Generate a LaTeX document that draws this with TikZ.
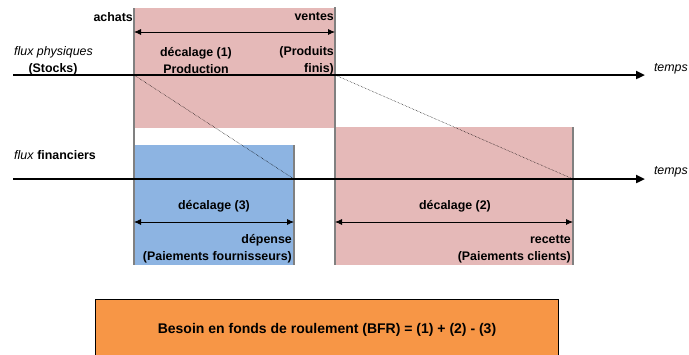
\documentclass[tikz,border=0pt]{standalone}
\usepackage{fontspec}
\setmainfont{Liberation Sans}
\usetikzlibrary{arrows.meta,positioning}
\definecolor{stockpink}{RGB}{229,185,184}
\definecolor{cashblue}{RGB}{141,180,226}
\definecolor{bfrorange}{RGB}{247,150,70}
\definecolor{edgegray}{RGB}{128,128,128}
\tikzset{
 edgeline/.style={draw=edgegray, line width=2pt},
 timeaxis/.style={-{Triangle[length=9pt,width=8pt]}, line width=2.6pt},
 spanarrow/.style={{Latex[length=7pt,width=6pt]}-{Latex[length=7pt,width=6pt]}, line width=0.8pt},
 lagline/.style={densely dotted, line width=0.5pt},
 boldlabel/.style={font=\fontsize{12.4}{17}\selectfont\bfseries, inner sep=1pt},
 itlabel/.style={font=\fontsize{12.4}{17}\selectfont\itshape, inner sep=1pt},
 bfrbox/.style={draw=black, line width=0.6pt, fill=bfrorange}
}
\begin{document}
\begin{tikzpicture}[x=1pt, y=-1pt]
 \useasboundingbox (0,0) rectangle (689,354);
 % coloured periods
 \fill[stockpink] (134,8) rectangle (335,128);
 \fill[cashblue] (134,145) rectangle (294,265);
 \fill[stockpink] (335,127) rectangle (573,265);
 \draw[bfrbox] (95,299) rectangle (558,362);
 % event marks
 \coordinate (achat) at (134,75);
 \coordinate (vente) at (335,75);
 \coordinate (paiefour) at (294,179);
 \coordinate (paiecli) at (573,179);
 \draw[edgeline] (134,8) -- (134,265);
 \draw[edgeline] (335,7) -- (335,265);
 \draw[edgeline] (294,145) -- (294,265);
 \draw[edgeline] (573,127) -- (573,265);
 % lags between flows
 \draw[lagline] (achat) -- (paiefour);
 \draw[lagline] (vente) -- (paiecli);
 % time axes
 \coordinate (phys0) at (13,75);
 \coordinate (phys1) at (645,75);
 \coordinate (fin0) at (13,179);
 \coordinate (fin1) at (645,179);
 \draw[timeaxis] (phys0) -- (phys1);
 \draw[timeaxis] (fin0) -- (fin1);
 % spans
 \coordinate (prod0) at (134,32);
 \coordinate (prod1) at (335,32);
 \coordinate (four0) at (134,222);
 \coordinate (four1) at (294,222);
 \coordinate (cli0) at (335,222);
 \coordinate (cli1) at (573,222);
 \draw[spanarrow] (prod0) -- (prod1);
 \draw[spanarrow] (four0) -- (four1);
 \draw[spanarrow] (cli0) -- (cli1);
 % labels
 \node[boldlabel, anchor=east] (achats) at (134,17) {achats};
 \node[boldlabel, anchor=east] (ventes) at (335,17) {ventes};
 \node[itlabel, anchor=west] (physique) at (13,52) {flux physiques};
 \node[boldlabel] (stocks) at (53,69) {(Stocks)};
 \node[boldlabel, align=center] (decal1) at (196,60.5) {décalage (1)\\Production};
 \node[boldlabel, align=right, anchor=east] (finis) at (335,60.5) {(Produits\\finis)};
 \node[itlabel, anchor=east] (temps1) at (689,69) {temps};
 \node[itlabel, anchor=east] (temps2) at (689,172) {temps};
 \node[boldlabel, anchor=west] (financier) at (13,155) {\textit{\mdseries flux} financiers};
 \node[boldlabel] (decal3) at (214,206) {décalage (3)};
 \node[boldlabel] (decal2) at (455,206) {décalage (2)};
 \node[boldlabel, align=right, anchor=east] (depense) at (293,249) {dépense\\(Paiements fournisseurs)};
 \node[boldlabel, align=right, anchor=east] (recette) at (572,249) {recette\\(Paiements clients)};
 \node[font=\fontsize{14}{16}\selectfont\bfseries] (bfr) at (327,330) {Besoin en fonds de roulement (BFR) = (1) + (2) - (3)};
\end{tikzpicture}
\end{document}
